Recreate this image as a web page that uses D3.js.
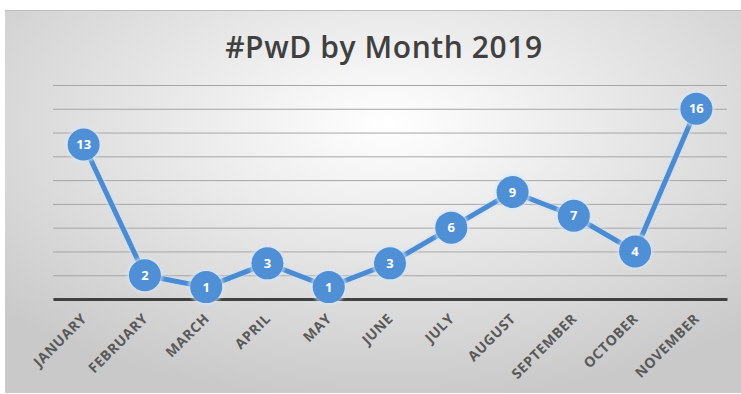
<!DOCTYPE html>
<html>
<head>
<meta charset="utf-8">
<script src="https://cdn.jsdelivr.net/npm/d3@7"></script>
<style>
  body { margin: 0; background: #fff; }
  svg { display: block; }
</style>
</head>
<body>
<div id="chart"></div>
<script>
// data
var months = ["JANUARY", "FEBRUARY", "MARCH", "APRIL", "MAY", "JUNE", "JULY", "AUGUST", "SEPTEMBER", "OCTOBER", "NOVEMBER"];
var counts = [13, 2, 1, 3, 1, 3, 6, 9, 7, 4, 16];
var yTicks = [0, 2, 4, 6, 8, 10, 12, 14, 16, 18];

var W = 741, H = 394;
var margin = {top: 85, right: 14, bottom: 95, left: 53};
var width = W - margin.left - margin.right,
    height = H - margin.top - margin.bottom;

var svg = d3.select("#chart").append("svg")
    .attr("width", W)
    .attr("height", H);

// background gradient of the chart area
var defs = svg.append("defs");
var grad = defs.append("radialGradient")
    .attr("id", "bg")
    .attr("cx", "52%").attr("cy", "30%").attr("r", "72%");
grad.append("stop").attr("offset", "0%").attr("stop-color", "#ffffff");
grad.append("stop").attr("offset", "100%").attr("stop-color", "#c9c9c9");

var glow = defs.append("filter").attr("id", "glow")
    .attr("x", "-50%").attr("y", "-50%").attr("width", "200%").attr("height", "200%");
glow.append("feGaussianBlur").attr("stdDeviation", 1.5);

svg.append("rect")
    .attr("x", 5).attr("y", 10)
    .attr("width", W - 5).attr("height", H - 11)
    .attr("fill", "url(#bg)");
svg.append("line")
    .attr("x1", 5).attr("x2", W).attr("y1", 10.5).attr("y2", 10.5)
    .attr("stroke", "#bdbdbd");

svg.append("text")
    .attr("x", 384).attr("y", 58)
    .attr("text-anchor", "middle")
    .style("font-family", "'Open Sans', sans-serif")
    .style("font-weight", 600)
    .style("font-size", "30px")
    .style("letter-spacing", "0.6px")
    .attr("fill", "#404040")
    .text("#PwD by Month 2019");

var g = svg.append("g")
    .attr("transform", "translate(" + margin.left + "," + margin.top + ")");

var x = d3.scalePoint()
    .domain(months)
    .range([0, width])
    .padding(0.5);

var y = d3.scaleLinear()
    .domain([0, 18])
    .range([height, 0]);

// gridlines
g.append("g")
    .call(d3.axisLeft(y).tickValues(yTicks).tickSize(-width).tickFormat(""))
    .call(function(a) { a.select(".domain").remove(); })
    .selectAll("line")
    .attr("stroke", "#a6a6a6")
    .attr("stroke-width", 1);

// x axis
var xAxis = g.append("g")
    .attr("transform", "translate(0," + height + ")")
    .call(d3.axisBottom(x).tickSize(0).tickPadding(0));
xAxis.select(".domain")
    .attr("stroke", "#404040")
    .attr("stroke-width", 3);
xAxis.selectAll("text")
    .attr("text-anchor", "end")
    .attr("dy", "0.35em")
    .attr("transform", "translate(0,17) rotate(-45)")
    .style("font-family", "'Open Sans', sans-serif")
    .style("font-weight", 700)
    .style("font-size", "14px")
    .style("letter-spacing", "0.6px")
    .attr("fill", "#595959");

var data = months.map(function(m, i) { return {month: m, value: counts[i]}; });

var line = d3.line()
    .x(function(d) { return x(d.month); })
    .y(function(d) { return y(d.value); });

g.append("path")
    .datum(data)
    .attr("fill", "none")
    .attr("stroke", "#cfe0f3")
    .attr("stroke-width", 8)
    .attr("opacity", 0.6)
    .attr("filter", "url(#glow)")
    .attr("d", line);

g.append("path")
    .datum(data)
    .attr("fill", "none")
    .attr("stroke", "#4a8bd3")
    .attr("stroke-width", 5)
    .attr("d", line);

var pts = g.selectAll(".pt")
    .data(data)
    .enter().append("g")
    .attr("class", "pt")
    .attr("transform", function(d) { return "translate(" + x(d.month) + "," + y(d.value) + ")"; });

pts.append("circle")
    .attr("r", 18)
    .attr("fill", "#d7e6f6")
    .attr("opacity", 0.7)
    .attr("filter", "url(#glow)");

pts.append("circle")
    .attr("r", 16)
    .attr("fill", "#4e8fd6");

pts.append("text")
    .attr("text-anchor", "middle")
    .attr("dy", "0.36em")
    .style("font-family", "'Open Sans', sans-serif")
    .style("font-weight", 700)
    .style("font-size", "13px")
    .attr("fill", "#ffffff")
    .text(function(d) { return d.value; });
</script>
</body>
</html>
